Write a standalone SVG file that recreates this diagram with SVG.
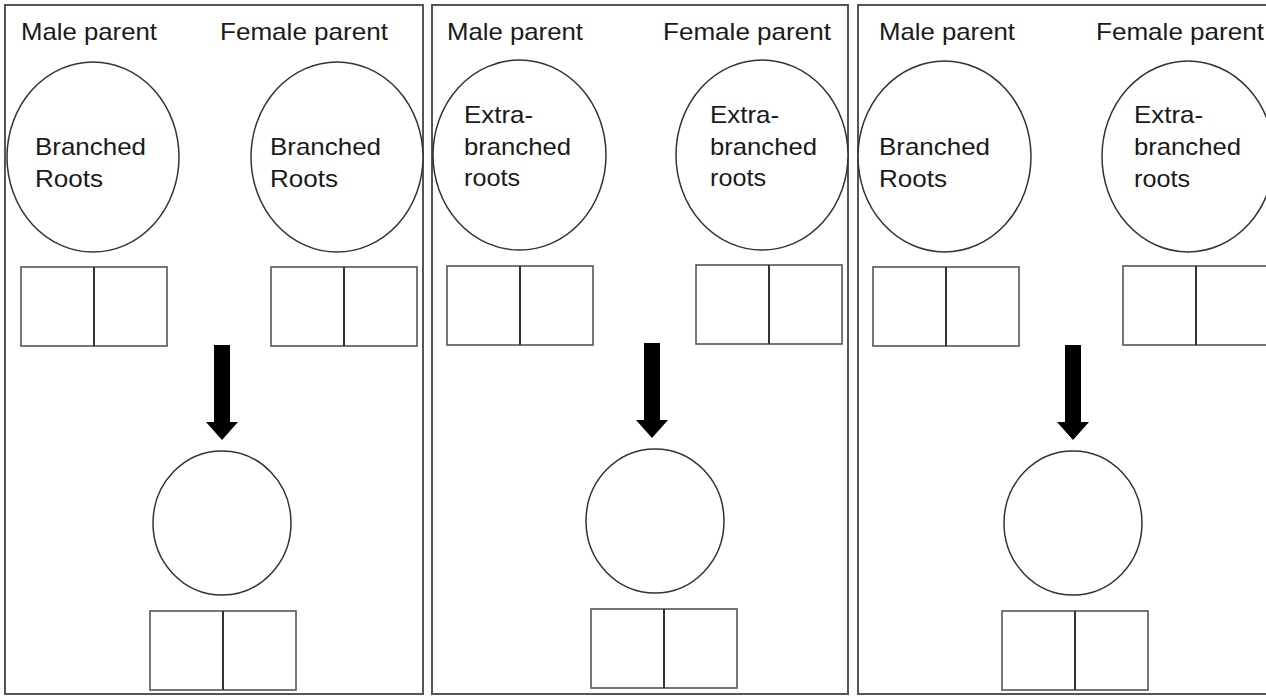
<svg xmlns="http://www.w3.org/2000/svg" width="1266" height="696" viewBox="0 0 1266 696">
  <style>
    .panel { fill: none; stroke: #555; stroke-width: 2; }
    .shape { fill: #fff; stroke: #333; stroke-width: 1.5; }
    .cell { fill: #fff; stroke: #555; stroke-width: 1.6; }
    .div { stroke: #333; stroke-width: 2; }
    .lbl { font-family: "Liberation Sans", Arial, sans-serif; font-size: 24px; fill: #1a1a1a; }
    .arrow { fill: #000; }
  </style>
  <defs>
    <!-- two-cell box used for allele pairs -->
    <g id="pair">
      <rect class="cell" x="0" y="0" width="146" height="79"/>
      <line class="div" x1="73" y1="0" x2="73" y2="79"/>
    </g>
    <!-- downward block arrow -->
    <polygon id="down" class="arrow" points="-8,0 8,0 8,77 16,77 0,95 -16,77 -8,77"/>
  </defs>
  <rect width="1266" height="696" fill="#fff"/>

  <!-- panels -->
  <g id="panels">
    <rect class="panel" x="5" y="5" width="418" height="689"/>
    <rect class="panel" x="432" y="5" width="416" height="689"/>
    <rect class="panel" x="858" y="5" width="420" height="689"/>
  </g>

  <!-- panel 1: branched x branched -->
  <g id="p1-headers">
    <text class="lbl" x="21" y="40" textLength="136" lengthAdjust="spacingAndGlyphs">Male parent</text>
    <text class="lbl" x="220" y="40" textLength="168" lengthAdjust="spacingAndGlyphs">Female parent</text>
  </g>
  <g id="p1-male">
    <ellipse class="shape" cx="93" cy="157" rx="86" ry="95"/>
    <text class="lbl" x="35" y="155" textLength="111" lengthAdjust="spacingAndGlyphs">Branched</text>
    <text class="lbl" x="35" y="187" textLength="68" lengthAdjust="spacingAndGlyphs">Roots</text>
    <use href="#pair" x="21" y="267"/>
  </g>
  <g id="p1-female">
    <ellipse class="shape" cx="337" cy="157" rx="86" ry="95"/>
    <text class="lbl" x="270" y="155" textLength="111" lengthAdjust="spacingAndGlyphs">Branched</text>
    <text class="lbl" x="270" y="187" textLength="68" lengthAdjust="spacingAndGlyphs">Roots</text>
    <use href="#pair" x="271" y="267"/>
  </g>
  <g id="p1-offspring">
    <ellipse class="shape" cx="222" cy="523" rx="69" ry="72"/>
    <use href="#pair" x="150" y="611"/>
  </g>

  <!-- panel 2: extra-branched x extra-branched -->
  <g id="p2-headers">
    <text class="lbl" x="447" y="40" textLength="136" lengthAdjust="spacingAndGlyphs">Male parent</text>
    <text class="lbl" x="663" y="40" textLength="168" lengthAdjust="spacingAndGlyphs">Female parent</text>
  </g>
  <g id="p2-male">
    <ellipse class="shape" cx="519.5" cy="155" rx="86.5" ry="95"/>
    <text class="lbl" x="464" y="123" textLength="69" lengthAdjust="spacingAndGlyphs">Extra-</text>
    <text class="lbl" x="464" y="155" textLength="107" lengthAdjust="spacingAndGlyphs">branched</text>
    <text class="lbl" x="464" y="186" textLength="56" lengthAdjust="spacingAndGlyphs">roots</text>
    <use href="#pair" x="447" y="266"/>
  </g>
  <g id="p2-female">
    <ellipse class="shape" cx="762" cy="155" rx="86" ry="95"/>
    <text class="lbl" x="710" y="123" textLength="69" lengthAdjust="spacingAndGlyphs">Extra-</text>
    <text class="lbl" x="710" y="155" textLength="107" lengthAdjust="spacingAndGlyphs">branched</text>
    <text class="lbl" x="710" y="186" textLength="56" lengthAdjust="spacingAndGlyphs">roots</text>
    <use href="#pair" x="696" y="265"/>
  </g>
  <g id="p2-offspring">
    <ellipse class="shape" cx="655" cy="521" rx="69" ry="72"/>
    <use href="#pair" x="591" y="609"/>
  </g>

  <!-- panel 3: branched x extra-branched -->
  <g id="p3-headers">
    <text class="lbl" x="879" y="40" textLength="136" lengthAdjust="spacingAndGlyphs">Male parent</text>
    <text class="lbl" x="1096" y="40" textLength="168" lengthAdjust="spacingAndGlyphs">Female parent</text>
  </g>
  <g id="p3-male">
    <ellipse class="shape" cx="944.5" cy="156.5" rx="86.5" ry="95.5"/>
    <text class="lbl" x="879" y="155" textLength="111" lengthAdjust="spacingAndGlyphs">Branched</text>
    <text class="lbl" x="879" y="187" textLength="68" lengthAdjust="spacingAndGlyphs">Roots</text>
    <use href="#pair" x="873" y="267"/>
  </g>
  <g id="p3-female">
    <ellipse class="shape" cx="1188" cy="156.5" rx="86" ry="95.5"/>
    <text class="lbl" x="1134" y="123" textLength="69" lengthAdjust="spacingAndGlyphs">Extra-</text>
    <text class="lbl" x="1134" y="155" textLength="107" lengthAdjust="spacingAndGlyphs">branched</text>
    <text class="lbl" x="1134" y="187" textLength="56" lengthAdjust="spacingAndGlyphs">roots</text>
    <use href="#pair" x="1123" y="266"/>
  </g>
  <g id="p3-offspring">
    <ellipse class="shape" cx="1073" cy="523" rx="69" ry="72"/>
    <use href="#pair" x="1002" y="611"/>
  </g>

  <!-- cross arrows from parents to offspring -->
  <g id="connectors">
    <use href="#down" x="222" y="345"/>
    <use href="#down" x="652" y="343"/>
    <use href="#down" x="1073" y="345"/>
  </g>
</svg>
